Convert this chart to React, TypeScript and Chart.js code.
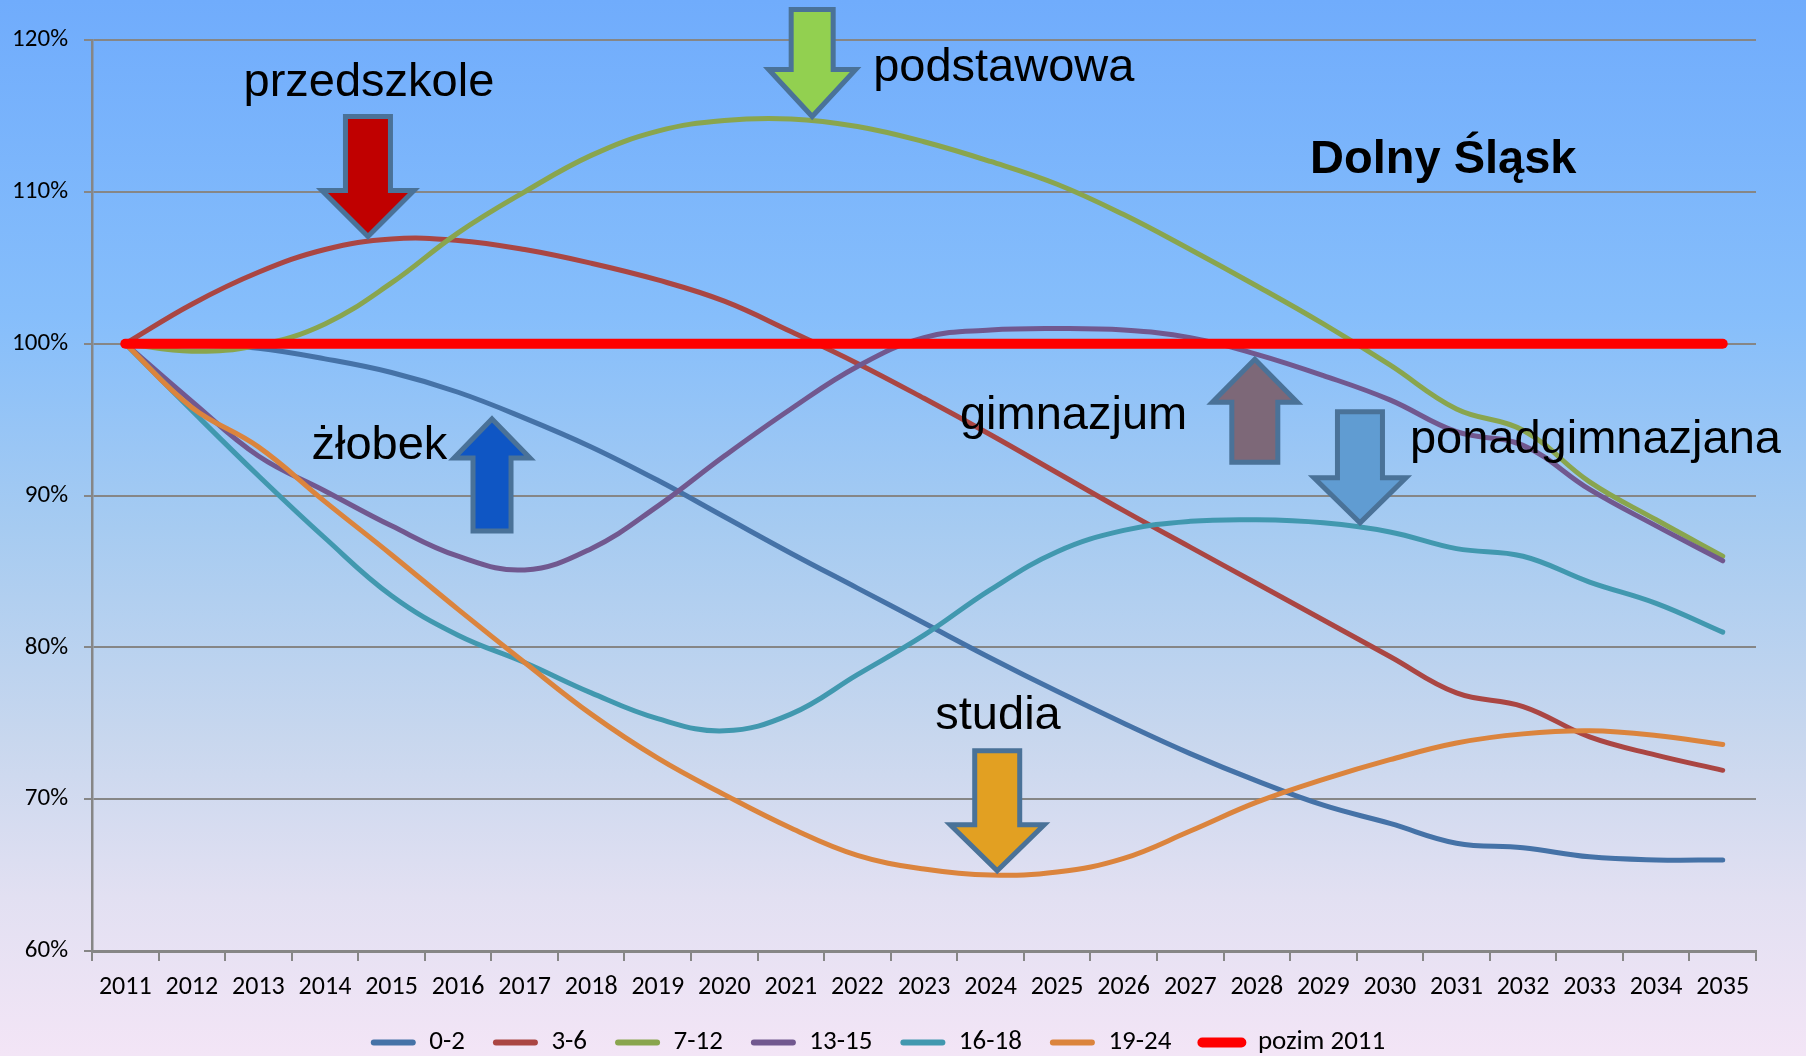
import React, { useEffect, useRef } from "react";
import { Chart, registerables } from "chart.js";

Chart.register(...registerables);

const years = [
  "2011", "2012", "2013", "2014", "2015", "2016", "2017", "2018", "2019", "2020",
  "2021", "2022", "2023", "2024", "2025", "2026", "2027", "2028", "2029", "2030",
  "2031", "2032", "2033", "2034", "2035",
];

const age0_2 = [100, 100, 99.7, 99.0, 98.1, 96.8, 95.1, 93.2, 91.0, 88.6, 86.2, 83.9, 81.6, 79.3, 77.1, 75.0, 73.0, 71.2, 69.6, 68.4, 67.1, 66.8, 66.2, 66.0, 66.0];
const age3_6 = [100, 102.6, 104.7, 106.2, 106.9, 106.8, 106.2, 105.3, 104.2, 102.8, 100.8, 98.7, 96.4, 94.0, 91.5, 89.0, 86.6, 84.2, 81.8, 79.4, 77.0, 76.1, 74.1, 72.9, 71.9];
const age7_12 = [100, 99.5, 99.9, 101.3, 104.0, 107.3, 110.0, 112.4, 114.0, 114.7, 114.8, 114.3, 113.3, 112.0, 110.5, 108.5, 106.2, 103.8, 101.3, 98.6, 95.7, 94.3, 90.9, 88.4, 86.0];
const age13_15 = [100, 96.2, 92.6, 90.3, 88.0, 86.0, 85.1, 86.5, 89.3, 92.6, 95.7, 98.5, 100.4, 100.9, 101.0, 100.9, 100.4, 99.3, 97.9, 96.3, 94.2, 93.3, 90.4, 88.0, 85.7];
const age16_18 = [100, 95.6, 91.3, 87.2, 83.4, 80.8, 79.0, 77.0, 75.3, 74.5, 75.6, 78.2, 80.8, 83.8, 86.3, 87.7, 88.3, 88.4, 88.2, 87.6, 86.5, 86.0, 84.3, 82.9, 81.0];
const age19_24 = [100, 95.8, 93.2, 89.6, 86.1, 82.5, 79.0, 75.6, 72.7, 70.3, 68.1, 66.3, 65.4, 65.0, 65.2, 66.1, 67.9, 69.8, 71.3, 72.6, 73.7, 74.3, 74.5, 74.2, 73.6];
const level2011 = [100, 100, 100, 100, 100, 100, 100, 100, 100, 100, 100, 100, 100, 100, 100, 100, 100, 100, 100, 100, 100, 100, 100, 100, 100];

const seriesNames = ["0-2", "3-6", "7-12", "13-15", "16-18", "19-24", "pozim 2011"];
const seriesValues = [age0_2, age3_6, age7_12, age13_15, age16_18, age19_24, level2011];
const seriesColors = ["#4572A7", "#AA4643", "#89A54E", "#71588F", "#4198AF", "#DB843D", "#FF0000"];

const yMin = 60;
const yMax = 120;
const yStep = 10;

// Annotation texts: [category index, value] of left/baseline
const noteTexts = ["przedszkole", "podstawowa", "Dolny Śląsk", "żłobek", "gimnazjum", "ponadgimnazjana", "studia"];
const noteAnchors: [number, number][] = [
  [1.776, 116.34], [11.236, 117.28], [17.8, 111.25], [2.798, 92.43], [12.54, 94.41], [19.3, 92.78], [12.17, 74.62],
];
const noteBold = [false, false, true, false, false, false, false];

// Block arrows: tip at [category index, value]
const arrowTips: [number, number][] = [
  [3.646, 106.86], [10.32, 114.76], [5.51, 95.24], [16.97, 99.17], [18.55, 88.0], [13.1, 65.09],
];
const arrowDirs = ["down", "down", "up", "up", "down", "down"];
const arrowFills = ["#C00000", "#92D050", "#0F56C4", "#7D6878", "#609CD2", "#E2A022"];
const arrowLen = [126, 113, 118, 109, 117, 126];
const arrowHead = [49, 50, 42, 46, 48, 49];
const arrowShaft = [50, 47, 43, 51, 50, 50];
const arrowHeadW = [100, 95, 84, 93, 100, 102];

const TICK_FONT = "Carlito, 'Liberation Sans Narrow', 'DejaVu Sans Condensed', sans-serif";

const annotationPlugin = {
  id: "annotations",
  afterDatasetsDraw(chart: any) {
    const { ctx } = chart;
    const x = chart.scales.x;
    const y = chart.scales.y;
    ctx.save();
    for (let i = 0; i < arrowTips.length; i++) {
      const tx = x.getPixelForValue(arrowTips[i][0]);
      const ty = y.getPixelForValue(arrowTips[i][1]);
      const s = arrowDirs[i] === "down" ? -1 : 1;
      const inset = 3;
      const tipY = ty + s * inset;
      const L = arrowLen[i] - 2 * inset;
      const hl = arrowHead[i] - inset;
      const sw = arrowShaft[i] - 5;
      const hw = arrowHeadW[i] - 8;
      ctx.beginPath();
      ctx.moveTo(tx, tipY);
      ctx.lineTo(tx + hw / 2, tipY + s * hl);
      ctx.lineTo(tx + sw / 2, tipY + s * hl);
      ctx.lineTo(tx + sw / 2, tipY + s * L);
      ctx.lineTo(tx - sw / 2, tipY + s * L);
      ctx.lineTo(tx - sw / 2, tipY + s * hl);
      ctx.lineTo(tx - hw / 2, tipY + s * hl);
      ctx.closePath();
      ctx.fillStyle = arrowFills[i];
      ctx.fill();
      ctx.lineWidth = 5;
      ctx.lineJoin = "miter";
      ctx.strokeStyle = "#4A7298";
      ctx.stroke();
    }
    ctx.fillStyle = "#000000";
    ctx.textAlign = "left";
    ctx.textBaseline = "alphabetic";
    for (let i = 0; i < noteTexts.length; i++) {
      const px = x.getPixelForValue(noteAnchors[i][0]);
      const py = y.getPixelForValue(noteAnchors[i][1]);
      ctx.font = (noteBold[i] ? "bold " : "") + "47px 'Liberation Sans', Arial, sans-serif";
      ctx.fillText(noteTexts[i], px, py);
    }
    ctx.restore();
  },
};

export default function App() {
  const canvasRef = useRef<HTMLCanvasElement | null>(null);

  useEffect(() => {
    if (!canvasRef.current) return;
    const datasets = seriesNames.map((name, i) => ({
      label: name,
      data: seriesValues[i],
      borderColor: seriesColors[i],
      backgroundColor: seriesColors[i],
      borderWidth: i === 6 ? 10 : 5,
      borderCapStyle: "round" as const,
      borderJoinStyle: "round" as const,
      pointRadius: 0,
      pointHoverRadius: 0,
      tension: i === 6 ? 0 : 0.4,
      fill: false,
      order: -i,
    }));

    const chart = new Chart(canvasRef.current, {
      type: "line",
      data: { labels: years, datasets },
      plugins: [annotationPlugin],
      options: {
        responsive: false,
        animation: false,
        devicePixelRatio: 1,
        layout: { padding: { top: 40, right: 50, left: 0, bottom: -10 } },
        plugins: {
          tooltip: { enabled: false },
          legend: {
            position: "bottom",
            labels: {
              font: { family: TICK_FONT, size: 27 },
              color: "#000000",
              boxWidth: 45,
              boxHeight: 6,
              padding: 28,
              useBorderRadius: true,
              borderRadius: 3,
              generateLabels: (ch: any) =>
                ch.data.datasets.map((ds: any, i: number) => ({
                  text: ds.label,
                  fillStyle: ds.borderColor,
                  strokeStyle: ds.borderColor,
                  lineWidth: i === 6 ? 4 : 0,
                  hidden: false,
                  datasetIndex: i,
                  fontColor: "#000000",
                  borderRadius: 3,
                })),
            },
          },
        },
        scales: {
          x: {
            type: "category",
            offset: true,
            afterFit: (scale: any) => {
              scale.height = 50;
            },
            grid: {
              offset: true,
              drawOnChartArea: false,
              drawTicks: true,
              tickLength: 10,
              color: "#868686",
              lineWidth: 2,
            },
            border: { display: true, color: "#868686", width: 3 },
            ticks: {
              font: { family: TICK_FONT, size: 26 },
              color: "#000000",
              padding: 11,
              maxRotation: 0,
              autoSkip: false,
            },
          },
          y: {
            min: yMin,
            max: yMax,
            afterFit: (scale: any) => {
              scale.width = 92;
            },
            grid: {
              color: "#868686",
              lineWidth: 2,
              drawTicks: true,
              tickLength: 8,
            },
            border: { display: true, color: "#868686", width: 2.5 },
            ticks: {
              stepSize: yStep,
              font: { family: TICK_FONT, size: 25 },
              color: "#000000",
              padding: 16,
              callback: (v: any) => v + "%",
            },
          },
        },
      },
    });
    return () => chart.destroy();
  }, []);

  return (
    <div
      style={{
        position: "fixed",
        left: 0,
        top: 0,
        width: 1806,
        height: 1056,
        background:
          "linear-gradient(to bottom, #70acfc 0%, #86befb 30%, #a6cbf1 50%, #c8d7ee 70%, #e2e0f2 85%, #f3e5f6 100%)",
      }}
    >
      <canvas ref={canvasRef} width={1806} height={1056} style={{ width: 1806, height: 1056, display: "block" }} />
    </div>
  );
}
